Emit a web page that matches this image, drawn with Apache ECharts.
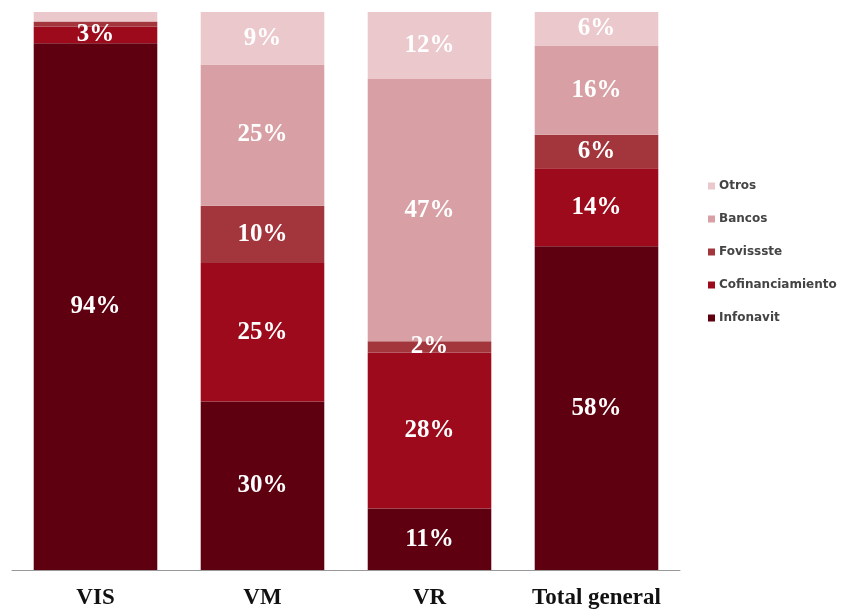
<!DOCTYPE html>
<html>
<head>
<meta charset="utf-8">
<script src="https://cdn.jsdelivr.net/npm/echarts@6/dist/echarts.min.js"></script>
<style>
  html, body { margin: 0; padding: 0; background: #fff; }
  #chart { width: 852px; height: 612px; }
</style>
</head>
<body>
<div id="chart"></div>
<script>
  // categories and stacked shares (%)
  var categories = ['VIS', 'VM', 'VR', 'Total general']
  var infonavit = [94.4, 30.2, 11, 58]
  var cofinanciamiento = [3, 24.8, 28, 14]
  var fovissste = [0.9, 10.3, 2, 6]
  var bancos = [0, 25.3, 47, 16]
  var otros = [1.7, 9.4, 12, 6]

  var seriesNames = ['Infonavit', 'Cofinanciamiento', 'Fovissste', 'Bancos', 'Otros']
  var seriesData = [infonavit, cofinanciamiento, fovissste, bancos, otros]
  var colors = ['#5e0010', '#9c0a1c', '#a2363c', '#d8a0a4', '#ebc8cb']

  var chart = echarts.init(document.getElementById('chart'))

  var series = seriesNames.map(function (name, i) {
    return {
      name: name,
      type: 'bar',
      stack: 'total',
      barCategoryGap: '26%',
      data: seriesData[i],
      itemStyle: { color: colors[i] },
      label: {
        show: true,
        position: 'inside',
        color: '#fff',
        fontFamily: 'Liberation Serif',
        fontWeight: 'bold',
        fontSize: 25,
        formatter: function (p) {
          // tiny slivers get no label
          return p.value >= 2 ? Math.round(p.value) + '%' : ''
        }
      }
    }
  })

  chart.setOption({
    animation: false,
    color: colors,
    grid: { left: 12, right: 172, top: 12, bottom: 42 },
    legend: {
      orient: 'vertical',
      left: 703,
      top: 175,
      itemGap: 21,
      itemWidth: 7,
      itemHeight: 7,
      icon: 'rect',
      data: seriesNames.slice().reverse(),
      textStyle: { fontFamily: 'DejaVu Sans', fontWeight: 'bold', fontSize: 12, color: '#444', padding: [0, 0, 0, -1] }
    },
    xAxis: {
      type: 'category',
      data: categories,
      axisLine: { lineStyle: { color: '#999' } },
      axisTick: { length: 6, lineStyle: { color: '#999' } },
      axisLabel: {
        interval: 0,
        margin: 17,
        color: '#111',
        fontFamily: 'Liberation Serif',
        fontWeight: 'bold',
        fontSize: 23
      }
    },
    yAxis: {
      type: 'value',
      min: 0,
      max: 100,
      show: false,
      splitLine: { show: false }
    },
    series: series
  })
</script>
</body>
</html>
